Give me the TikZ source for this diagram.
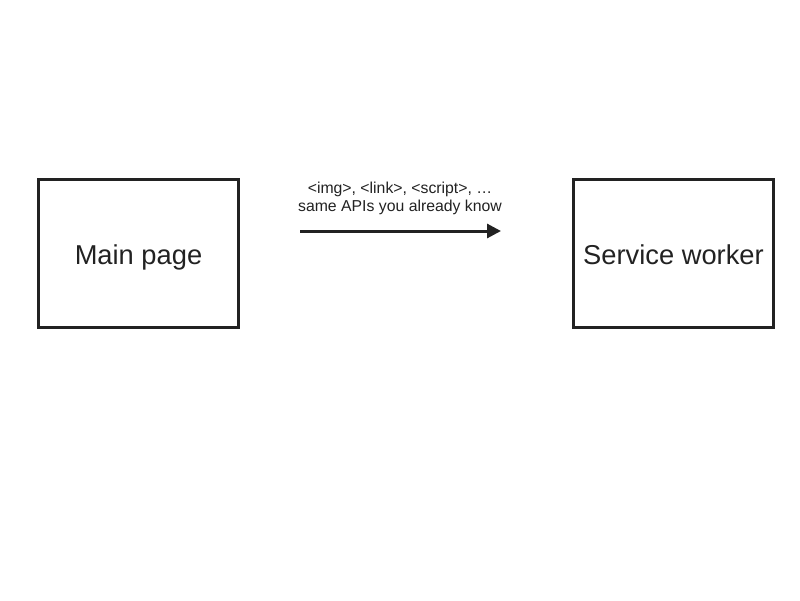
\documentclass[tikz,border=0pt]{standalone}
\usepackage{fontspec}
\setmainfont{Liberation Sans}
\usetikzlibrary{arrows.meta}
\definecolor{ink}{HTML}{222222}
\begin{document}
\begin{tikzpicture}[x=1pt,y=-1pt,
  box/.style={draw=ink,line width=3pt,minimum width=200pt,minimum height=148pt,inner sep=0pt,text=ink,text height=23pt,text depth=1pt,font=\fontsize{27.3}{32}\selectfont},
  lbl/.style={text=ink,font=\fontsize{15.8}{18}\selectfont,align=center,inner sep=0pt},
  conn/.style={draw=ink,line width=3pt,-{Triangle[length=14pt,width=14pt]}}]
\useasboundingbox (0,0) rectangle (800,600);
\node[box] (main) at (138.5,253) {Main page};
\node[box] (sw) at (673.5,253) {Service worker};
\coordinate (a1) at (300,231);
\coordinate (a2) at (501,231);
\draw[conn] (a1) -- (a2);
\node[lbl] (t) at (400,198) {<img>, <link>, <script>, …\\same APIs you already know};
\end{tikzpicture}
\end{document}
